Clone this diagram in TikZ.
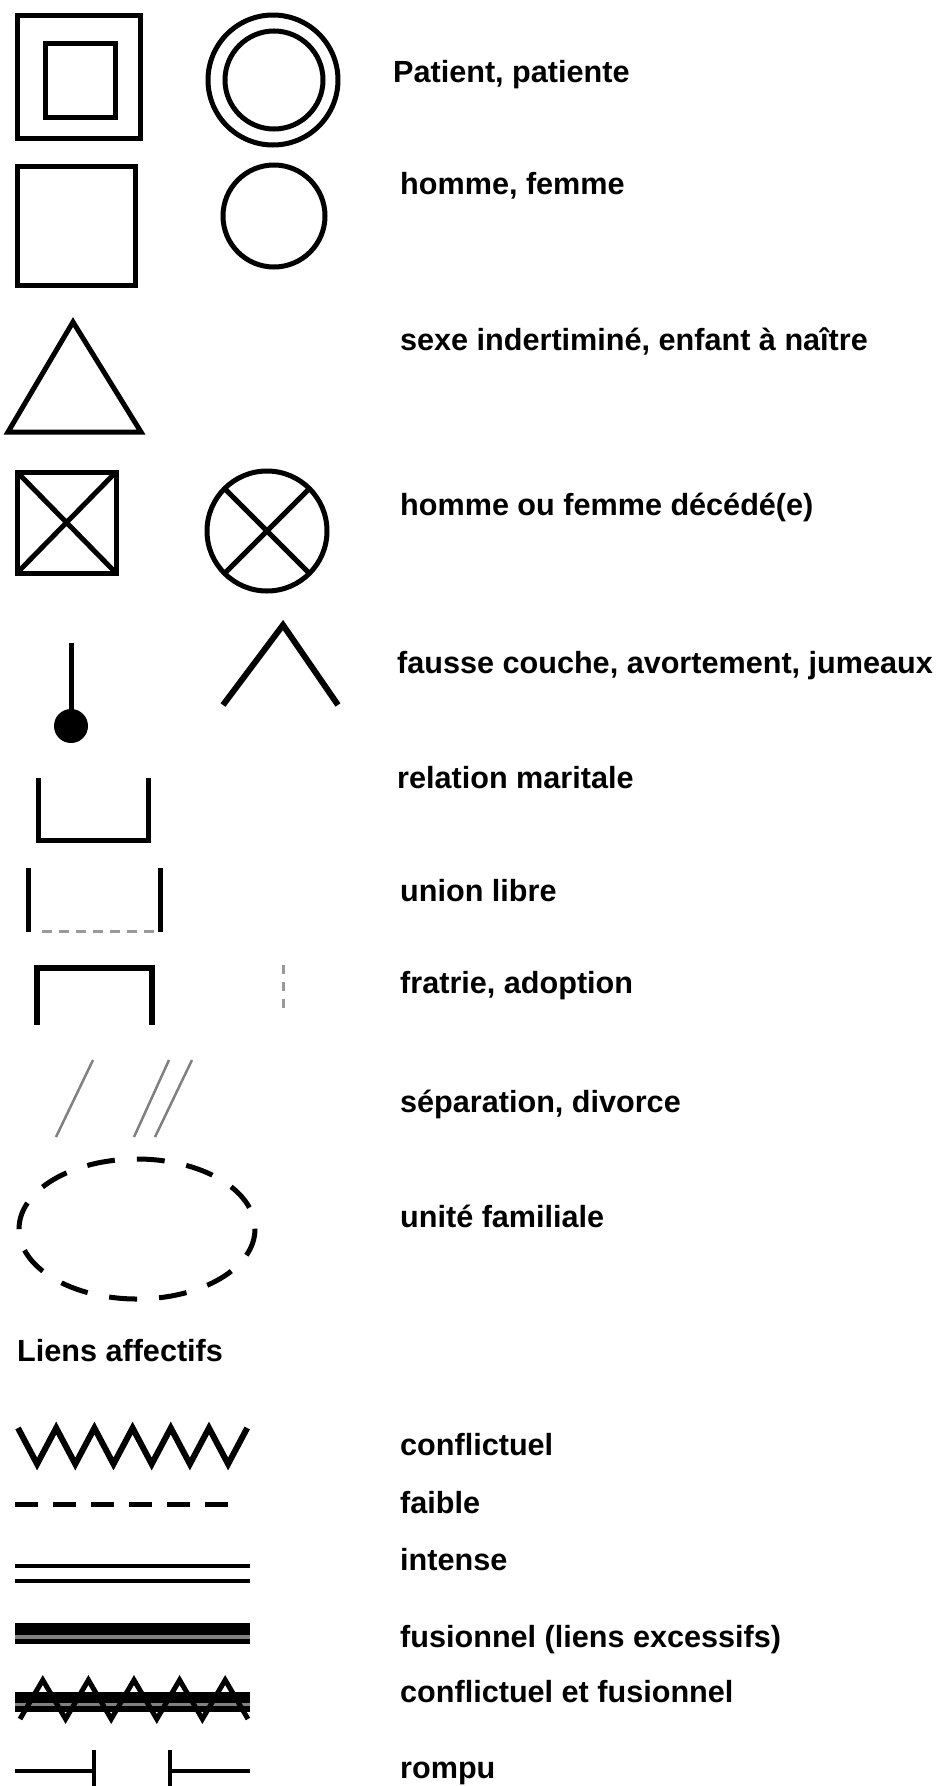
\documentclass[tikz,border=0pt]{standalone}
\usepackage{fontspec}
\setmainfont{Liberation Sans}
\begin{document}
\begin{tikzpicture}[x=1pt, y=-1pt,
  sym/.style={line width=5pt},
  lbl/.style={anchor=base west, inner sep=0pt, font=\bfseries\fontsize{30.6}{36}\selectfont}]
\useasboundingbox (0,0) rectangle (942,1786);
% patient, patiente
\draw[sym] (17,15) rectangle (140,138);
\draw[sym] (45,43) rectangle (115,117);
\draw[sym] (273,80) circle (65);
\draw[sym] (274,80) circle (49);
\node[lbl] (patient) at (393,82) {Patient, patiente};
% homme, femme
\draw[sym] (17,166) rectangle (135,285);
\draw[sym] (274,216) circle (51);
\node[lbl] (homme) at (400,194) {homme, femme};
% sexe indetermine
\draw[sym, line join=miter] (8,432) -- (73,322) -- (141,432) -- cycle;
\node[lbl] (sexe) at (400,350) {sexe indertiminé, enfant à naître};
% deces
\draw[sym] (17,472) rectangle (116,573);
\draw[sym] (17,472) -- (116,573) (17,573) -- (116,472);
\draw[sym] (267,531) circle (60);
\draw[sym] (267,531) +(45:60) -- +(225:60) +(135:60) -- +(315:60);
\node[lbl] (deces) at (400,515) {homme ou femme décédé(e)};
% fausse couche, jumeaux
\draw[sym] (71,643) -- (71,715);
\fill (71,726) circle (17);
\draw[sym, line width=6pt] (223,705) -- (283,625) -- (338,705);
\node[lbl] (fausse) at (397,673) {fausse couche, avortement, jumeaux};
% relation maritale
\draw[sym] (38,778) -- (38,840) -- (148,840) -- (148,778);
\node[lbl] (marital) at (397,788) {relation maritale};
% union libre
\draw[sym] (28,868) -- (28,932) (160,868) -- (160,932);
\draw[gray!80, line width=3pt, dash pattern=on 10pt off 7pt] (42,931) -- (155,931);
\node[lbl] (union) at (400,901) {union libre};
% fratrie, adoption
\draw[sym, line width=6pt] (37,1025) -- (37,968) -- (152,968) -- (152,1025);
\draw[gray!80, line width=3pt, dash pattern=on 9pt off 8pt] (283,965) -- (283,1012);
\node[lbl] (fratrie) at (400,993) {fratrie, adoption};
% separation, divorce
\draw[gray, line width=2.5pt] (93,1060) -- (56,1137);
\draw[gray, line width=2.5pt] (169,1060) -- (134,1137) (192,1060) -- (155,1137);
\node[lbl] (separation) at (400,1112) {séparation, divorce};
% unite familiale
\draw[sym, dash pattern=on 28pt off 22pt] (137,1229) ellipse (118 and 70);
\node[lbl] (unite) at (400,1227) {unité familiale};
% liens affectifs
\node[lbl] (liens) at (17,1361) {Liens affectifs};
\draw[sym, line width=6pt, line join=miter] (18,1428)
  \foreach \i in {1,...,6} { -- ++(19.1,36) -- ++(19.1,-36) };
\node[lbl] (conflit) at (400,1455) {conflictuel};
\draw[sym, dash pattern=on 23pt off 15pt] (15,1504) -- (235,1504);
\node[lbl] (faible) at (400,1513) {faible};
\draw[line width=3.5pt] (15,1566) -- (250,1566) (15,1581) -- (250,1581);
\node[lbl] (intense) at (400,1570) {intense};
\fill (15,1623) rectangle (250,1644);
\draw[gray, line width=4pt] (15,1637) -- (250,1637);
\node[lbl] (fusion) at (400,1647) {fusionnel (liens excessifs)};
\fill (15,1692) rectangle (250,1712);
\draw[gray, line width=3pt] (15,1704) -- (250,1704);
\draw[line width=5pt, line join=miter] (20,1719)
  \foreach \i in {1,...,5} { -- ++(22.8,-39) -- ++(22.8,39) };
\node[lbl] (confus) at (400,1702) {conflictuel et fusionnel};
% rompu
\draw[line width=4pt] (15,1771) -- (94,1771) (94,1750) -- (94,1786);
\draw[line width=4pt] (170,1750) -- (170,1786) (170,1771) -- (250,1771);
\node[lbl] (rompu) at (400,1778) {rompu};
\end{tikzpicture}
\end{document}
